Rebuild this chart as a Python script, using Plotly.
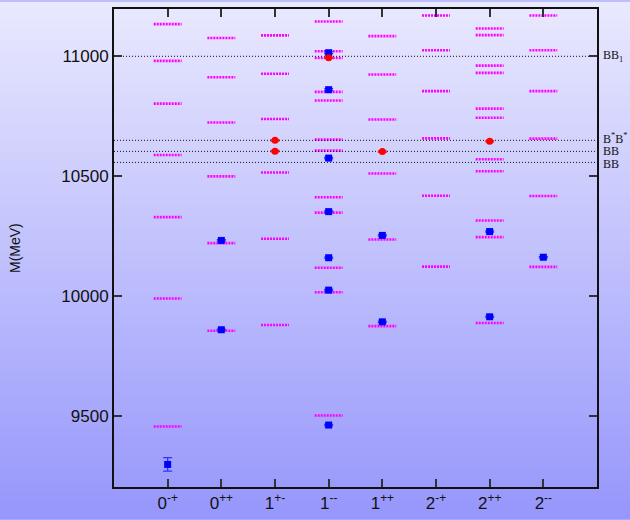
import plotly.graph_objects as go

# ---------------- data ----------------
categories = ["0<sup>-+</sup>", "0<sup>++</sup>", "1<sup>+-</sup>", "1<sup>--</sup>",
              "1<sup>++</sup>", "2<sup>-+</sup>", "2<sup>++</sup>", "2<sup>--</sup>"]

# theoretical levels (MeV), one list per category
levels_0mp = [11134, 10981, 10803, 10589, 10330, 9991, 9458]
levels_0pp = [11076, 10913, 10724, 10500, 10222, 9857]
levels_1pm = [11087, 10927, 10739, 10516, 10240, 9881]
levels_1mm = [11145, 11021, 10993, 10852, 10816, 10653, 10607, 10413, 10349, 10119, 10017, 9504]
levels_1pp = [11084, 10924, 10737, 10512, 10237, 9876]
levels_2mp = [11170, 11025, 10855, 10658, 10419, 10124]
levels_2pp = [11116, 11088, 10961, 10931, 10782, 10744, 10571, 10521, 10316, 10247, 9889]
levels_2mm = [11170, 11025, 10855, 10657, 10418, 10123]

# experimental states (blue squares)
exp_cat = [1, 2, 2, 4, 4, 4, 4, 4, 4, 4, 5, 5, 7, 7, 8]
exp_mass = [9300, 10233, 9861, 11015, 10861, 10576, 10353, 10161, 10026, 9464,
            10254, 9894, 10270, 9915, 10163]
exp_err = [28, 3, 3, 4, 4, 3, 3, 3, 3, 3, 3, 3, 3, 3, 3]

# other states (red dots)
red_cat = [3, 3, 4, 5, 7]
red_mass = [10650, 10605, 10994, 10603, 10646]
red_err = [3, 3, 3, 3, 3]

# thresholds
thr_mass = [11000, 10650, 10604, 10558]
thr_label = ["BB<sub>1</sub>", "B<sup>*</sup>B<sup>*</sup>", "BB", "BB"]
thr_shift = [0, 2, 0, -2]

ytick_vals = [9500, 10000, 10500, 11000]
ytick_text = ["9500", "10000", "10500", "11000"]
y_range = [9206, 11197]
x_range = [0, 9]
half_w = 0.26

all_levels = [levels_0mp, levels_0pp, levels_1pm, levels_1mm,
              levels_1pp, levels_2mp, levels_2pp, levels_2mm]

fig = go.Figure()

# magenta level lines
lx, ly = [], []
for i, lev in enumerate(all_levels):
    c = i + 1
    for m in lev:
        lx += [c - half_w, c + half_w, None]
        ly += [m, m, None]
fig.add_trace(go.Scatter(x=lx, y=ly, mode="lines",
                         line=dict(color="#ff00ff", width=2.6, dash="2px,1px"),
                         hoverinfo="skip", showlegend=False))

# threshold lines
for m in thr_mass:
    fig.add_trace(go.Scatter(x=x_range, y=[m, m], mode="lines",
                             line=dict(color="#111111", width=1, dash="1px,2px"),
                             hoverinfo="skip", showlegend=False))

# experimental points
fig.add_trace(go.Scatter(x=exp_cat, y=exp_mass, mode="markers",
                         marker=dict(symbol="square", size=7, color="#0000ff"),
                         error_y=dict(type="data", array=exp_err, color="#3030ff",
                                      thickness=1.2, width=4.5),
                         hoverinfo="skip", showlegend=False))
# red points
fig.add_trace(go.Scatter(x=red_cat, y=red_mass, mode="markers",
                         marker=dict(symbol="circle", size=7, color="#ff0000"),
                         error_y=dict(type="data", array=red_err, color="#ff2020",
                                      thickness=1.2, width=4.5),
                         hoverinfo="skip", showlegend=False))

# background gradient
W, H = 630, 520
L, R, T, B = 114, 33, 7, 32
pw, ph = W - L - R, H - T - B
top_c = (233, 233, 254)
bot_c = (150, 150, 252)
n = 130
shapes = []
for k in range(n):
    py0 = k * H / n
    py1 = (k + 1) * H / n + 0.6
    f = (k + 0.5) / n
    col = tuple(int(round(top_c[j] + (bot_c[j] - top_c[j]) * f)) for j in range(3))
    shapes.append(dict(type="rect", xref="paper", yref="paper", layer="below",
                       x0=-L / pw - 0.01, x1=1 + R / pw + 0.01,
                       y0=(H - B - py1) / ph, y1=(H - B - py0) / ph,
                       line=dict(width=0), fillcolor="rgb(%d,%d,%d)" % col))

annotations = []
for m, lab, s in zip(thr_mass, thr_label, thr_shift):
    annotations.append(dict(x=1.008, xref="paper", y=m, yref="y", text=lab,
                            showarrow=False, xanchor="left", yanchor="middle",
                            yshift=s,
                            font=dict(family="Liberation Serif", size=12, color="#111111")))
annotations.append(dict(x=(15 - L) / pw, xref="paper", y=0.5, yref="paper",
                        text="M(MeV)", showarrow=False, textangle=-90,
                        xanchor="center", yanchor="middle",
                        font=dict(family="Liberation Sans", size=14, color="#111111")))

fig.update_layout(
    width=W, height=H,
    margin=dict(l=L, r=R, t=T, b=B),
    paper_bgcolor="rgb(190,190,253)",
    plot_bgcolor="rgba(0,0,0,0)",
    shapes=shapes,
    annotations=annotations,
    font=dict(family="Liberation Sans", size=17, color="#111111"),
    xaxis=dict(range=x_range, tickvals=list(range(1, 9)), ticktext=categories,
               showgrid=False, zeroline=False, showline=True, linecolor="#111111",
               linewidth=2, mirror="ticks", ticks="inside", ticklen=8,
               tickwidth=1.5, tickcolor="#333333", tickfont=dict(size=17)),
    yaxis=dict(range=y_range, tickvals=ytick_vals, ticktext=ytick_text,
               showgrid=False, zeroline=False,
               showline=True, linecolor="#111111", linewidth=2, mirror="ticks",
               ticks="inside", ticklen=8, tickwidth=1.5, tickcolor="#333333",
               tickfont=dict(size=17)),
)

fig.write_html("out.html",
               config={"displayModeBar": False},
               post_script="document.body.style.margin='0';document.body.style.padding='0';"
                           "document.body.style.overflow='hidden';")
